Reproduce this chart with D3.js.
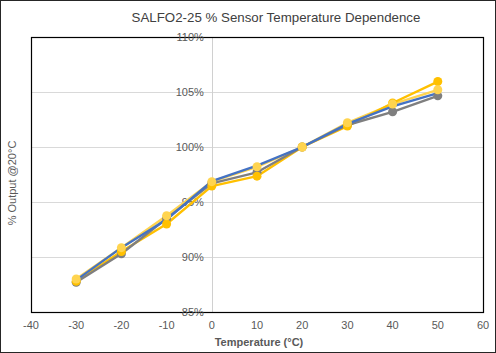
<!DOCTYPE html>
<html lang="en">
<head>
  <meta charset="UTF-8" />
  <title>SALFO2-25 % Sensor Temperature Dependence</title>
  <script src="https://d3js.org/d3.v7.min.js"></script>
  <style>
    body { margin: 0; font-family: "Liberation Sans", Arial, sans-serif; background: white; }
    svg text { fill: #595959; }
  </style>
</head>
<body>
  <svg id="chart" width="496" height="353"></svg>

  <script>
    const temps = [-30, -20, -10, 0, 10, 20, 30, 40, 50];
    const lightGold = [88.0, 90.85, 93.75, 96.85, 98.2, 100, 102.2, 103.9, 105.2];
    const gold = [87.8, 90.5, 93.0, 96.45, 97.35, 100, 101.9, 104.0, 105.95];
    const gray = [87.7, 90.3, 93.5, 96.7, 97.7, 100, 102.0, 103.2, 104.65];
    const blue = [87.9, 90.85, 93.4, 96.9, 98.3, 100, 102.1, 103.7, 104.9];

    const xTicks = [-40, -30, -20, -10, 0, 10, 20, 30, 40, 50, 60];
    const yTicks = [85, 90, 95, 100, 105, 110];

    const series = [
      { name: "lightGold", values: lightGold, color: "#FFD44F", marker: true },
      { name: "gold", values: gold, color: "#FFC000", marker: true },
      { name: "gray", values: gray, color: "#7F7F7F", marker: true },
      { name: "blue", values: blue, color: "#4472C4", marker: false }
    ];

    const svg = d3.select("#chart");
    const pLeft = 31, pRight = 483, pTop = 37, pBottom = 312;

    const x = d3.scaleLinear().domain([-40, 60]).range([pLeft, pRight]);
    const y = d3.scaleLinear().domain([85, 110]).range([pBottom, pTop]);

    // outer chart border
    svg.append("rect")
      .attr("x", 0.5).attr("y", 0.5)
      .attr("width", 495).attr("height", 352)
      .attr("fill", "white").attr("stroke", "#262626");

    svg.append("text")
      .attr("x", 276).attr("y", 22)
      .attr("text-anchor", "middle")
      .attr("font-size", 13.3)
      .style("fill", "#404040")
      .text("SALFO2-25 % Sensor Temperature Dependence");

    // horizontal gridlines
    svg.append("g").selectAll("line")
      .data(yTicks)
      .join("line")
      .attr("x1", pLeft).attr("x2", pRight)
      .attr("y1", d => Math.round(y(d)) + 0.5)
      .attr("y2", d => Math.round(y(d)) + 0.5)
      .attr("stroke", "#D9D9D9");

    // vertical axis line at x = 0
    svg.append("line")
      .attr("x1", Math.round(x(0)) + 0.5).attr("x2", Math.round(x(0)) + 0.5)
      .attr("y1", pTop).attr("y2", pBottom)
      .attr("stroke", "#D0D0D0");

    // plot area border
    svg.append("rect")
      .attr("x", pLeft + 0.5).attr("y", pTop + 0.5)
      .attr("width", pRight - pLeft).attr("height", pBottom - pTop)
      .attr("fill", "none").attr("stroke", "#000").attr("stroke-width", 1.2);

    // y tick labels, sitting on the x = 0 axis
    svg.append("g").selectAll("text")
      .data(yTicks)
      .join("text")
      .attr("x", x(0) - 8)
      .attr("y", d => y(d) + 4)
      .attr("text-anchor", "end")
      .attr("font-size", 11)
      .text(d => d + "%");

    // x tick labels
    svg.append("g").selectAll("text")
      .data(xTicks)
      .join("text")
      .attr("x", d => x(d))
      .attr("y", 329)
      .attr("text-anchor", "middle")
      .attr("font-size", 11)
      .text(d => d);

    svg.append("text")
      .attr("x", 259).attr("y", 346)
      .attr("text-anchor", "middle")
      .attr("font-size", 11)
      .attr("font-weight", "bold")
      .text("Temperature (°C)");

    svg.append("text")
      .attr("transform", "translate(16,183) rotate(-90)")
      .attr("text-anchor", "middle")
      .attr("font-size", 11)
      .text("% Output @20°C");

    const line = d3.line()
      .x((d, i) => x(temps[i]))
      .y(d => y(d));

    svg.append("g").selectAll("path")
      .data(series)
      .join("path")
      .attr("d", d => line(d.values))
      .attr("fill", "none")
      .attr("stroke", d => d.color)
      .attr("stroke-width", 2.4)
      .attr("stroke-linejoin", "round");

    const markerOrder = [series[2], series[1], series[0]];
    markerOrder.forEach(s => {
      svg.append("g").selectAll("circle")
        .data(s.values)
        .join("circle")
        .attr("cx", (d, i) => x(temps[i]))
        .attr("cy", d => y(d))
        .attr("r", 4.5)
        .attr("fill", s.color);
    });
  </script>
</body>
</html>
